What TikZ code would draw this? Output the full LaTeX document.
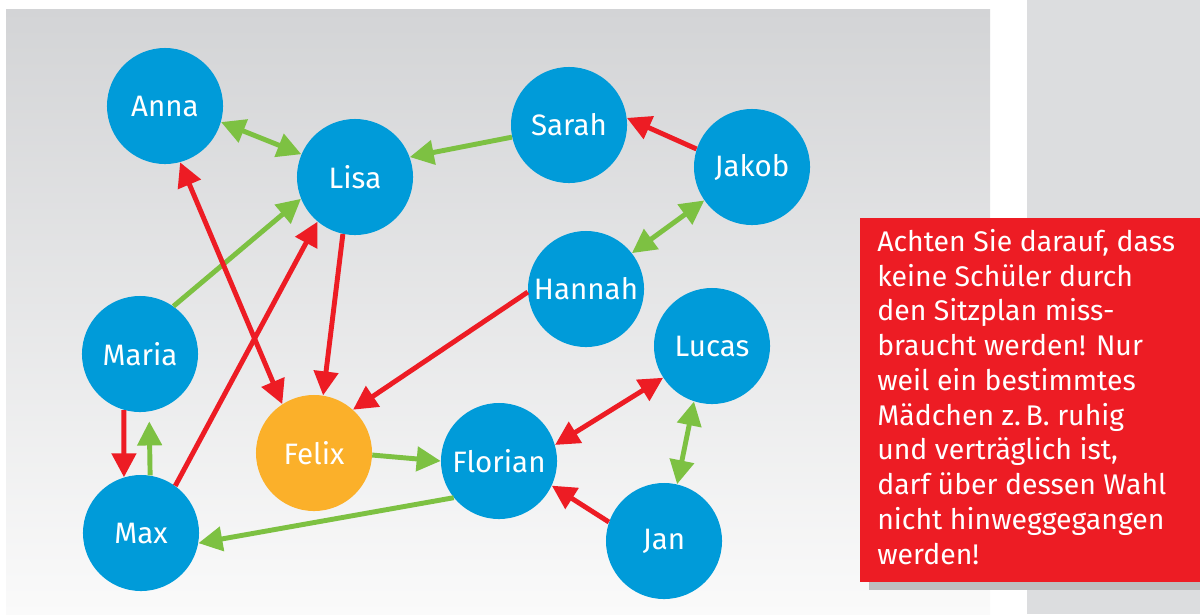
\documentclass[tikz,border=0pt]{standalone}
\usepackage{fontspec}
\setmainfont{Fira Sans}
\usetikzlibrary{arrows.meta}
\definecolor{kidblue}{HTML}{009BD9}
\definecolor{felixorange}{HTML}{FBB02A}
\definecolor{badred}{HTML}{ED1C24}
\definecolor{goodgreen}{HTML}{7DC142}
\definecolor{paneltop}{HTML}{D3D4D6}
\definecolor{panelbottom}{HTML}{FAFAFA}
\definecolor{sidegray}{HTML}{DCDDDF}
\definecolor{shadowgray}{HTML}{BDBEC0}
\tikzset{
	kidnode/.style={
			circle,
			fill=kidblue,
			text=white,
			minimum size=2.9cm,
			inner sep=0pt,
			font=\fontsize{21}{24}\selectfont
		},
	focusnode/.style={
			kidnode,
			fill=felixorange
		},
	likeedge/.style={
			draw=goodgreen,
			line width=3.5pt,
			-{Triangle[length=0.6cm,width=0.6cm]}
		},
	dislikeedge/.style={
			draw=badred,
			line width=3.5pt,
			-{Triangle[length=0.6cm,width=0.6cm]}
		},
	bothways/.style={
			{Triangle[length=0.6cm,width=0.6cm]}-{Triangle[length=0.6cm,width=0.6cm]}
		}
}
\tikzset{
	notetext/.style={text=white, align=left, inner sep=0pt,
			font=\fontsize{20.2}{24.7}\selectfont}
}

\begin{document}
\begin{tikzpicture}[x=0.025cm, y=-0.025cm]
	\useasboundingbox (0,0) rectangle (1200,614);
	\fill[white] (0,0) rectangle (1200,614);
	\shade[top color=paneltop, bottom color=panelbottom] (6,9) rectangle (990,614);
	\fill[sidegray] (1027,0) rectangle (1200,614);
	\fill[shadowgray] (869,228) rectangle (1200,590);
	\fill[badred] (860,218) rectangle (1200,582);

	\node[kidnode] (anna) at (165,106) {Anna};
	\node[kidnode] (lisa) at (355,177) {Lisa};
	\node[kidnode] (sarah) at (569,125) {Sarah};
	\node[kidnode] (jakob) at (752,167) {Jakob};
	\node[kidnode] (hannah) at (586,289) {Hannah};
	\node[kidnode] (lucas) at (712,346) {Lucas};
	\node[kidnode] (maria) at (140,354) {Maria};
	\node[focusnode] (felix) at (314,453) {Felix};
	\node[kidnode] (florian) at (499,461) {Florian};
	\node[kidnode] (max) at (141,533) {Max};
	\node[kidnode] (jan) at (664,541) {Jan};

	\node[notetext, anchor=base west] (note) at (877,564) {Achten Sie darauf, dass\\
		keine Schüler durch\\
		den Sitzplan miss-\\
		braucht werden! Nur\\
		weil ein bestimmtes\\
		Mädchen z.\,B. ruhig\\
		und verträglich ist,\\
		darf über dessen Wahl\\
		nicht hinweggegangen\\
		werden!};

	% sympathy
	\draw[likeedge, bothways] (anna.-16) -- (lisa.157);
	\draw[likeedge] (sarah.192) -- (lisa.20);
	\draw[likeedge, bothways] (jakob.215) -- (hannah.38);
	\draw[likeedge] (maria.55) -- (lisa.202);
	\draw[likeedge, shorten >=7pt] (max.81) -- (maria.-81);
	\draw[likeedge] (felix.-2) -- (florian.180);
	\draw[likeedge] (florian.219) -- (max.-10);
	\draw[likeedge, bothways] (lucas.-108) -- (jan.77);

	% antipathy
	\draw[dislikeedge] (jakob.162) -- (sarah.7);
	\draw[dislikeedge] (hannah.183) -- (felix.48);
	\draw[dislikeedge] (lisa.258) -- (felix.81);
	\draw[dislikeedge, bothways] (anna.-75) -- (felix.123);
	\draw[dislikeedge] (max.54) -- (lisa.230);
	\draw[dislikeedge] (maria.-106) -- (max.107);
	\draw[dislikeedge, bothways] (florian.16) -- (lucas.-147);
	\draw[dislikeedge] (jan.161) -- (florian.-25);
\end{tikzpicture}
\end{document}
